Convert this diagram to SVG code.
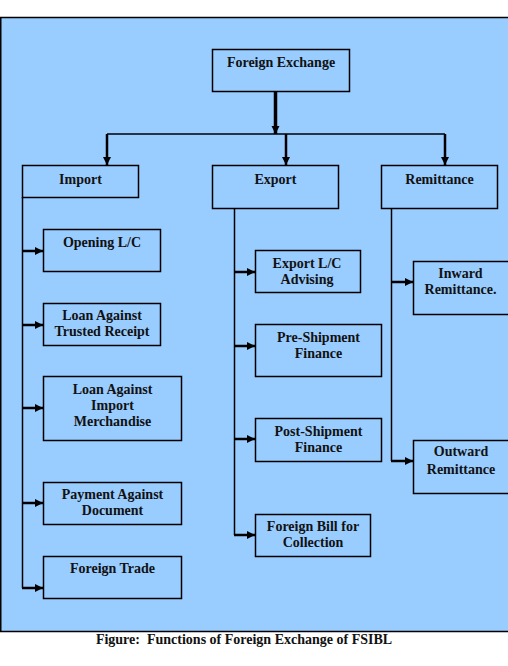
<svg xmlns="http://www.w3.org/2000/svg" width="508" height="666" viewBox="0 0 508 666">
<style>
.box{fill:#99CCFF;stroke:#000;stroke-width:1.5}
.t{font-family:"Liberation Serif","Times New Roman",serif;font-weight:bold;font-size:14px;fill:#111;text-anchor:middle}
.ln{stroke:#000;stroke-width:1.5;fill:none}
.ar{stroke:#000;stroke-width:2.5;fill:none;marker-end:url(#ah)}
</style>
<defs>
<marker id="ah" markerUnits="userSpaceOnUse" markerWidth="9" markerHeight="9" refX="8" refY="4" orient="auto">
<path d="M0,0 L8,4 L0,8 z" fill="#000"/>
</marker>
</defs>
<rect width="508" height="666" fill="#fff"/>
<rect x="0.75" y="17.5" width="520" height="614" fill="#99CCFF" stroke="#000" stroke-width="1.5"/>
<g id="connectors">
<line class="ar" x1="275.5" y1="91" x2="275.5" y2="134" style="stroke-width:3.5"/>
<line class="ln" x1="107" y1="134" x2="445" y2="134"/>
<line class="ar" x1="107" y1="134" x2="107" y2="165"/>
<line class="ar" x1="286" y1="134" x2="286" y2="165"/>
<line class="ar" x1="445" y1="134" x2="445" y2="165"/>
<line class="ln" x1="22.5" y1="197" x2="22.5" y2="588"/>
<line class="ar" x1="22" y1="251" x2="43" y2="251"/>
<line class="ar" x1="22" y1="325" x2="43" y2="325"/>
<line class="ar" x1="22" y1="408" x2="43" y2="408"/>
<line class="ar" x1="22" y1="503" x2="43" y2="503"/>
<line class="ar" x1="22" y1="588" x2="43" y2="588"/>
<line class="ln" x1="234.5" y1="209" x2="234.5" y2="535"/>
<line class="ar" x1="234" y1="272" x2="255" y2="272"/>
<line class="ar" x1="234" y1="346" x2="255" y2="346"/>
<line class="ar" x1="234" y1="439" x2="255" y2="439"/>
<line class="ar" x1="234" y1="535" x2="255" y2="535"/>
<line class="ln" x1="391.5" y1="209" x2="391.5" y2="461"/>
<line class="ar" x1="391" y1="282" x2="413" y2="282"/>
<line class="ar" x1="391" y1="461" x2="413" y2="461"/>
</g>
<g id="foreign-exchange"><rect class="box" x="212.5" y="49.5" width="137" height="42"/><text class="t" x="281" y="67">Foreign Exchange</text></g>
<g id="import"><rect class="box" x="22.5" y="165.5" width="116" height="32"/><text class="t" x="80.5" y="184">Import</text></g>
<g id="export"><rect class="box" x="212.5" y="165.5" width="126" height="43"/><text class="t" x="275.5" y="184">Export</text></g>
<g id="remittance"><rect class="box" x="381.5" y="165.5" width="116" height="43"/><text class="t" x="439.5" y="184">Remittance</text></g>
<g id="opening-lc"><rect class="box" x="43.5" y="229.5" width="117" height="42"/><text class="t" x="102" y="247">Opening L/C</text></g>
<g id="loan-trusted"><rect class="box" x="43.5" y="303.5" width="117" height="42"/><text class="t" x="102" y="320">Loan Against</text><text class="t" x="102" y="336">Trusted Receipt</text></g>
<g id="loan-import"><rect class="box" x="43.5" y="376.5" width="138" height="64"/><text class="t" x="112.5" y="393.5">Loan Against</text><text class="t" x="112.5" y="409.5">Import</text><text class="t" x="112.5" y="426">Merchandise</text></g>
<g id="payment-doc"><rect class="box" x="43.5" y="482.5" width="138" height="42"/><text class="t" x="112.5" y="499">Payment Against</text><text class="t" x="112.5" y="515">Document</text></g>
<g id="foreign-trade"><rect class="box" x="43.5" y="556.5" width="138" height="42"/><text class="t" x="112.5" y="573">Foreign Trade</text></g>
<g id="export-lc"><rect class="box" x="255.5" y="250.5" width="105" height="42"/><text class="t" x="307" y="267.5">Export L/C</text><text class="t" x="307" y="284">Advising</text></g>
<g id="pre-shipment"><rect class="box" x="255.5" y="324.5" width="126" height="52"/><text class="t" x="318.5" y="341.5">Pre-Shipment</text><text class="t" x="318.5" y="357.5">Finance</text></g>
<g id="post-shipment"><rect class="box" x="255.5" y="418.5" width="126" height="43"/><text class="t" x="318.5" y="435.5">Post-Shipment</text><text class="t" x="318.5" y="452">Finance</text></g>
<g id="foreign-bill"><rect class="box" x="255.5" y="514.5" width="115" height="42"/><text class="t" x="313" y="530.5">Foreign Bill for</text><text class="t" x="313" y="547">Collection</text></g>
<g id="inward"><rect class="box" x="413.5" y="261.5" width="110" height="53"/><text class="t" x="460.5" y="277.5">Inward</text><text class="t" x="460.5" y="294">Remittance.</text></g>
<g id="outward"><rect class="box" x="413.5" y="440.5" width="110" height="53"/><text class="t" x="461" y="456">Outward</text><text class="t" x="461" y="473.5">Remittance</text></g>
<text class="t" x="244" y="644" xml:space="preserve">Figure:  Functions of Foreign Exchange of FSIBL</text>
</svg>
